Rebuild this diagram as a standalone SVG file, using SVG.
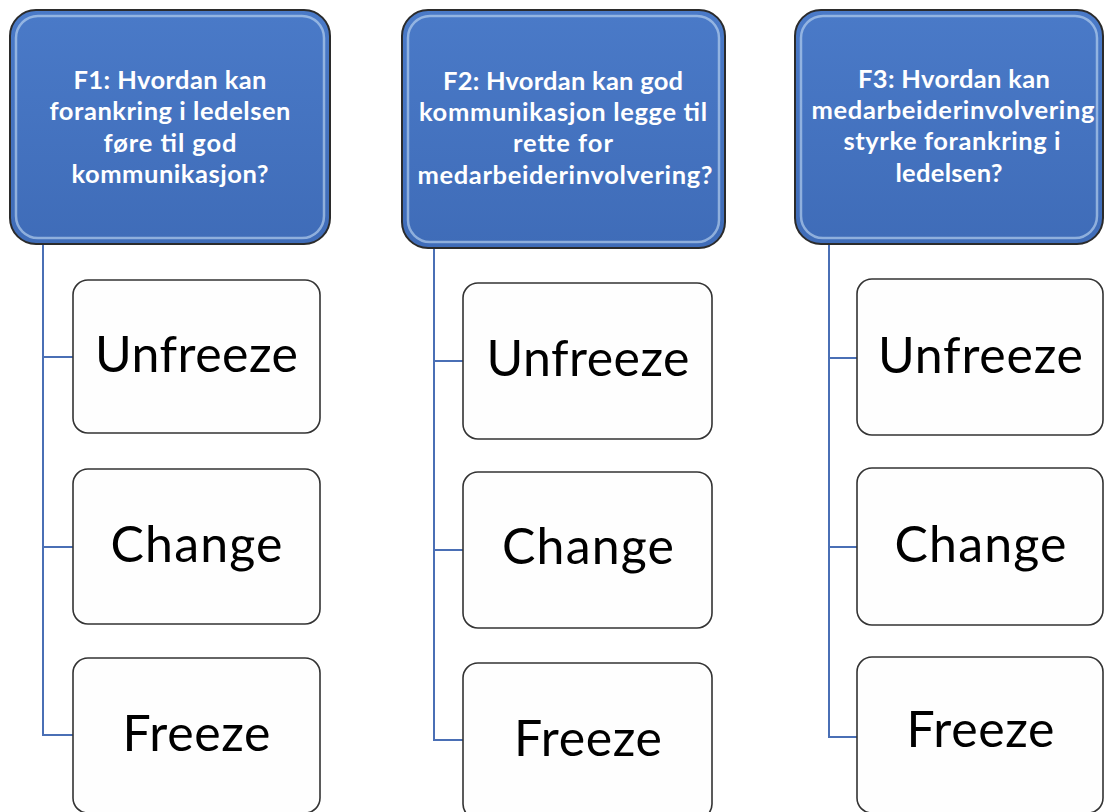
<svg xmlns="http://www.w3.org/2000/svg" width="1105" height="812" viewBox="0 0 1105 812">
<style>
.hdr{stroke:#2b2b2b;stroke-width:2;fill:url(#hg)}
.hl{fill:none;stroke:#c5dcf3;stroke-width:2.5;opacity:0.6}
.ht{font-family:Lato,"Open Sans",sans-serif;font-weight:bold;font-size:25.5px;fill:#ffffff;text-anchor:middle}
.box{stroke:#333333;stroke-width:1.6;fill:#fefefe}
.bt{font-family:Lato,"Open Sans",sans-serif;font-size:50px;fill:#000000;text-anchor:middle}
.con{fill:none;stroke:#4a6fb5;stroke-width:2}
</style>
<defs>
<linearGradient id="hg" x1="0" y1="0" x2="0" y2="1">
<stop offset="0" stop-color="#4a7ac8"/>
<stop offset="1" stop-color="#3f6cb8"/>
</linearGradient>
</defs>
<rect width="1105" height="812" fill="#ffffff"/>
<g id="connectors">
<path class="con" d="M43,244 V735 H73 M43,357 H73 M43,547 H73"/>
<path class="con" d="M434,248 V740 H463 M434,361 H463 M434,550 H463"/>
<path class="con" d="M829,244 V737 H857 M829,358 H857 M829,547 H857"/>
</g>
<g id="F1">
<rect class="hdr" x="10" y="10" width="320" height="234" rx="26"/>
<rect class="hl" x="16" y="16" width="308" height="222" rx="22"/>
<text class="ht" x="170" y="89" textLength="193">F1: Hvordan kan</text>
<text class="ht" x="170" y="120" textLength="241">forankring i ledelsen</text>
<text class="ht" x="170" y="152" textLength="133">føre til god</text>
<text class="ht" x="170" y="183" textLength="197">kommunikasjon?</text>
</g>
<g id="F2">
<rect class="hdr" x="402" y="10" width="323" height="238" rx="26"/>
<rect class="hl" x="408" y="16" width="311" height="226" rx="22"/>
<text class="ht" x="563" y="90" textLength="240">F2: Hvordan kan god</text>
<text class="ht" x="563" y="121" textLength="288">kommunikasjon legge til</text>
<text class="ht" x="563" y="152" textLength="100">rette for</text>
<text class="ht" x="565" y="184" textLength="295">medarbeiderinvolvering?</text>
</g>
<g id="F3">
<rect class="hdr" x="795" y="10" width="308" height="234" rx="26"/>
<rect class="hl" x="801" y="16" width="296" height="222" rx="22"/>
<text class="ht" x="954" y="88" textLength="192">F3: Hvordan kan</text>
<text class="ht" x="953" y="119" textLength="283">medarbeiderinvolvering</text>
<text class="ht" x="952" y="150" textLength="217">styrke forankring i</text>
<text class="ht" x="949" y="182" textLength="107">ledelsen?</text>
</g>
<g id="F1-unfreeze">
<rect class="box" x="73" y="280" width="247" height="153" rx="15"/>
<text class="bt" x="196.5" y="372" textLength="203">Unfreeze</text>
</g>
<g id="F1-change">
<rect class="box" x="73" y="469" width="247" height="155" rx="15"/>
<text class="bt" x="196.5" y="562" textLength="172">Change</text>
</g>
<g id="F1-freeze">
<rect class="box" x="73" y="658" width="247" height="155" rx="15"/>
<text class="bt" x="196.5" y="751" textLength="148">Freeze</text>
</g>
<g id="F2-unfreeze">
<rect class="box" x="463" y="283" width="249" height="156" rx="15"/>
<text class="bt" x="588" y="376" textLength="203">Unfreeze</text>
</g>
<g id="F2-change">
<rect class="box" x="463" y="472" width="249" height="156" rx="15"/>
<text class="bt" x="588" y="564" textLength="172">Change</text>
</g>
<g id="F2-freeze">
<rect class="box" x="463" y="663" width="249" height="156" rx="15"/>
<text class="bt" x="588" y="756" textLength="148">Freeze</text>
</g>
<g id="F3-unfreeze">
<rect class="box" x="857" y="279" width="246" height="156" rx="15"/>
<text class="bt" x="980.5" y="373" textLength="205">Unfreeze</text>
</g>
<g id="F3-change">
<rect class="box" x="857" y="468" width="246" height="157" rx="15"/>
<text class="bt" x="980.5" y="562" textLength="172">Change</text>
</g>
<g id="F3-freeze">
<rect class="box" x="857" y="657" width="246" height="156" rx="15"/>
<text class="bt" x="980.5" y="747" textLength="148">Freeze</text>
</g>
</svg>
